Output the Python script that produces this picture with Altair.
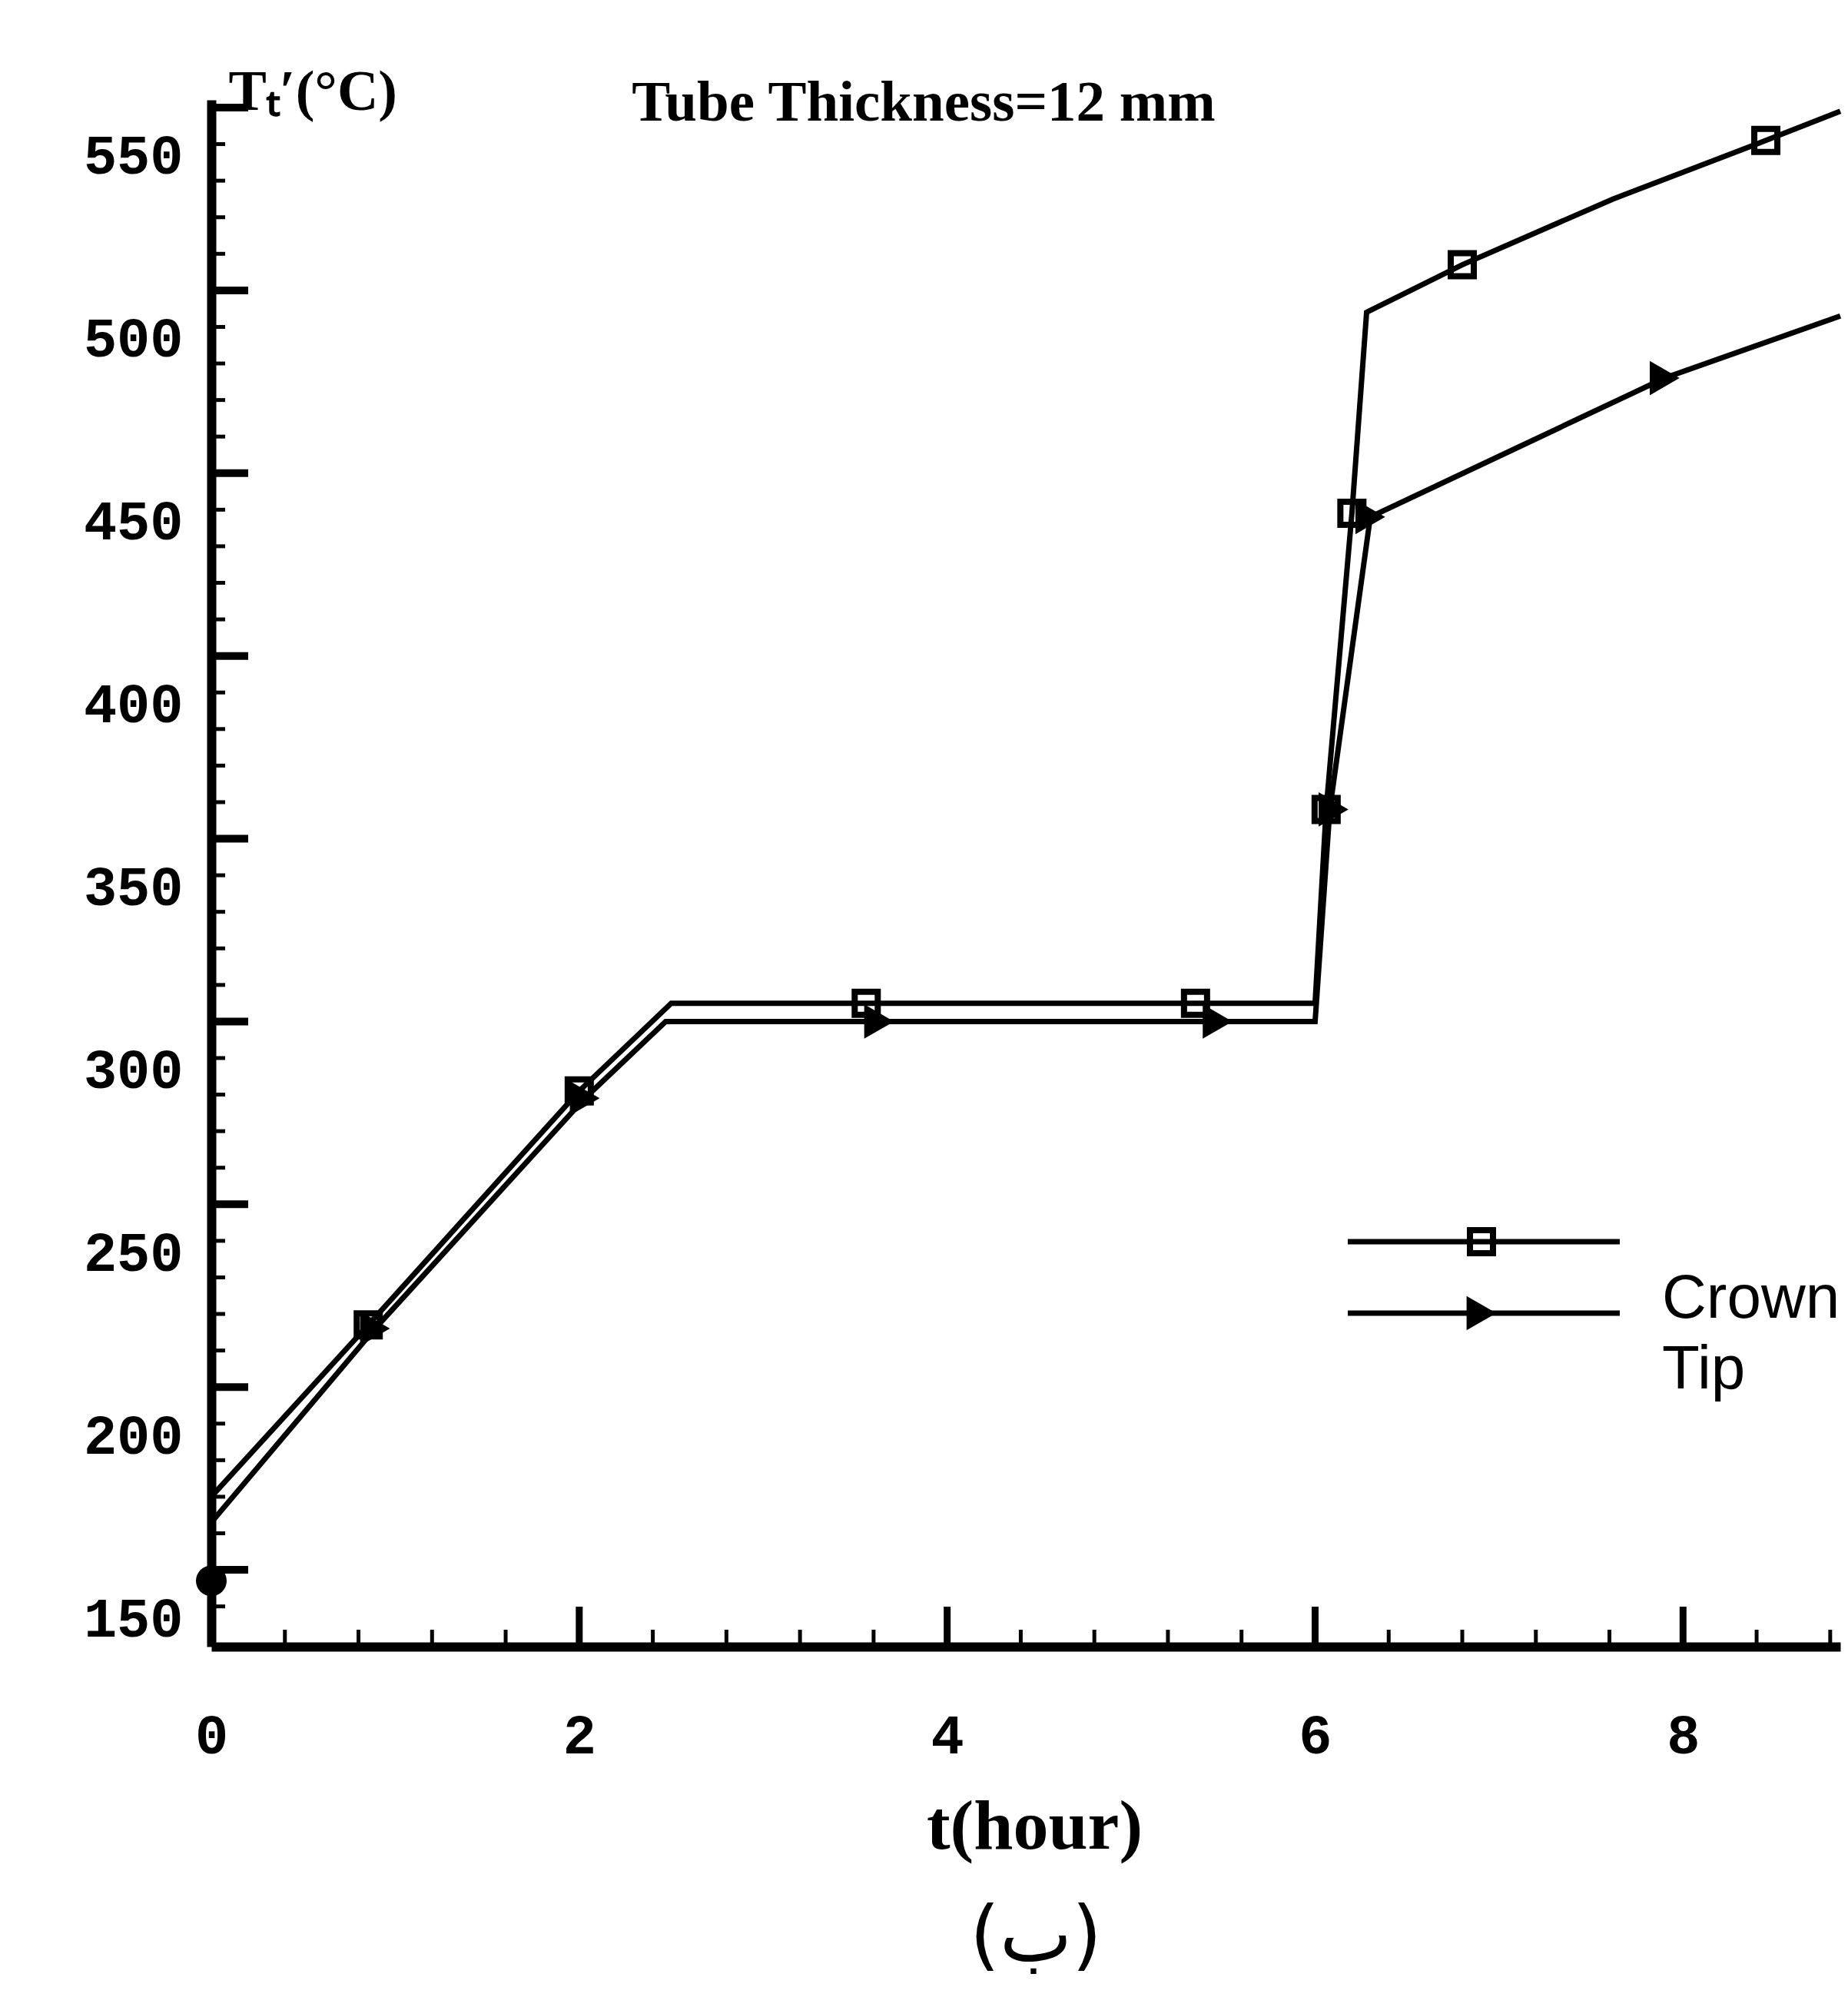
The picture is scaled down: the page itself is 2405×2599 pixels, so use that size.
import altair as alt
import pandas as pd

# ---- data ----
series = ["Crown", "Tip"]
crown_t = [0.0, 0.853, 2.0, 2.5, 3.56, 5.35, 6.0, 6.06, 6.2, 6.28, 6.8, 7.62, 8.45, 8.855]
crown_T = [170, 217, 281, 305, 305, 305, 305, 358, 439, 494, 507, 525, 541, 549]
tip_t = [0.0, 0.89, 2.03, 2.47, 3.63, 5.47, 6.0, 6.08, 6.3, 7.1, 7.9, 8.855]
tip_T = [163, 216, 279, 300, 300, 300, 300, 358, 438, 457, 476, 493]
crown_mark_t = [0.853, 2.0, 3.56, 5.35, 6.06, 6.2, 6.8, 8.45]
crown_mark_T = [217, 281, 305, 305, 358, 439, 507, 541]
tip_mark_t = [0.89, 2.03, 3.63, 5.47, 6.1, 6.3, 7.9]
tip_mark_T = [216, 279, 300, 300, 358, 438, 476]
init_t = [0.0]
init_T = [147]

x_major = [0, 2, 4, 6, 8]
x_minor = [0.4, 0.8, 1.2, 1.6, 2.4, 2.8, 3.2, 3.6, 4.4, 4.8, 5.2, 5.6,
           6.4, 6.8, 7.2, 7.6, 8.4, 8.8]
y_major = [150, 200, 250, 300, 350, 400, 450, 500, 550]
y_minor = [v for v in range(140, 551, 10) if v % 50 != 0]

chart_title = "Tube Thickness=12 mm"
x_title = "t(hour)"
y_title = "Tₜ′(°C)"
sub_label = "(ب)"

W, H = 2120, 2013
xs = alt.Scale(domain=[0, 8.855], nice=False, zero=False)
ys = alt.Scale(domain=[129, 552.1], nice=False, zero=False)

x_axis = alt.Axis(values=x_major, format="d", tickSize=0, ticks=False, grid=False,
                  domain=True, domainWidth=12, domainColor="black",
                  labelFont="Liberation Mono", labelFontWeight="bold",
                  labelFontSize=72, labelColor="black", labelFlush=False,
                  labelBaseline="middle", labelPadding=116,
                  title=x_title, titleFont="Liberation Serif",
                  titleFontWeight="bold", titleFontSize=92, titleColor="black",
                  titleX=1071, titleY=262, titleBaseline="alphabetic",
                  titleAlign="center")
y_axis = alt.Axis(values=y_major, format="d", tickSize=0, ticks=False, grid=False,
                  domain=True, domainWidth=12, domainColor="black",
                  labelFont="Liberation Mono", labelFontWeight="bold",
                  labelFontSize=72, labelColor="black", labelOffset=64,
                  labelPadding=37, labelFlush=False,
                  title=y_title, titleFont="Liberation Serif",
                  titleFontWeight="bold", titleFontSize=74, titleColor="black",
                  titleAngle=0, titleX=22, titleY=12, titleAlign="left",
                  titleBaseline="alphabetic")

X = lambda f: alt.X(f, scale=xs, axis=x_axis)
Y = lambda f: alt.Y(f, scale=ys, axis=y_axis)

lines_df = pd.concat([
    pd.DataFrame({"t": crown_t, "T": crown_T, "s": series[0]}),
    pd.DataFrame({"t": tip_t, "T": tip_T, "s": series[1]}),
])

lines = alt.Chart(lines_df).mark_line(color="black", strokeWidth=7).encode(
    x=X("t:Q"), y=Y("T:Q"), detail="s:N")

sq = alt.Chart(pd.DataFrame({"t": crown_mark_t, "T": crown_mark_T})).mark_point(
    shape="square", filled=False, size=900, strokeWidth=8, color="black", opacity=1
).encode(x=X("t:Q"), y=Y("T:Q"))

tri = alt.Chart(pd.DataFrame({"t": tip_mark_t, "T": tip_mark_T})).mark_point(
    shape="triangle-right", filled=True, size=2000, color="black", opacity=1
).encode(x=X("t:Q"), y=Y("T:Q"))

init = alt.Chart(pd.DataFrame({"t": init_t, "T": init_T})).mark_point(
    shape="circle", filled=True, size=1600, color="black", opacity=1
).encode(x=X("t:Q"), y=Y("T:Q"))

# inward ticks
yt_major = alt.Chart(pd.DataFrame({"T": y_major})).mark_rule(color="black", strokeWidth=10).encode(
    y=Y("T:Q"), x=alt.value(0), x2=alt.value(48))
yt_minor = alt.Chart(pd.DataFrame({"T": y_minor})).mark_rule(color="black", strokeWidth=5).encode(
    y=Y("T:Q"), x=alt.value(0), x2=alt.value(18))
xt_major = alt.Chart(pd.DataFrame({"t": x_major})).mark_rule(color="black", strokeWidth=9).encode(
    x=X("t:Q"), y=alt.value(H), y2=alt.value(H - 52))
xt_minor = alt.Chart(pd.DataFrame({"t": x_minor})).mark_rule(color="black", strokeWidth=5).encode(
    x=X("t:Q"), y=alt.value(H), y2=alt.value(H - 22))

# title inside plot
title_txt = alt.Chart(pd.DataFrame({"s": [chart_title]})).mark_text(
    font="Liberation Serif", fontWeight="bold", fontSize=75, color="black",
    align="center", baseline="alphabetic"
).encode(x=alt.value(927), y=alt.value(27), text="s:N")

sub_txt = alt.Chart(pd.DataFrame({"s": [sub_label]})).mark_text(
    font="DejaVu Sans", fontSize=100, color="black",
    align="center", baseline="middle"
).encode(x=alt.value(1073), y=alt.value(2392), text="s:N")

# manual legend
def legend_entry(name, ly, ty, shape, filled, size, sw):
    d = pd.DataFrame({"s": [name]})
    base = alt.Chart(d)
    ln = base.mark_rule(color="black", strokeWidth=7).encode(
        x=alt.value(1479), x2=alt.value(1833), y=alt.value(ly))
    mk = base.mark_point(shape=shape, filled=filled, size=size, strokeWidth=sw,
                         color="black", opacity=1).encode(
        x=alt.value(1653), y=alt.value(ly))
    tx = base.mark_text(font="Liberation Sans", fontSize=80, color="black",
                        align="left", baseline="alphabetic").encode(
        x=alt.value(1888), y=alt.value(ty), text="s:N")
    return [ln, mk, tx]

leg = legend_entry(series[0], 1486, 1585, "square", False, 900, 8) + \
      legend_entry(series[1], 1579, 1677, "triangle-right", True, 2000, 1)

chart = alt.layer(
    lines, yt_major, yt_minor, xt_major, xt_minor, sq, tri, init,
    title_txt, sub_txt, *leg
).properties(
    width=W, height=H,
    autosize=alt.AutoSizeParams(type="none"),
    padding={"left": 267, "top": 122, "right": 2, "bottom": 440},
    background="white",
).configure_view(strokeWidth=0)

chart.save("out.html", embed_options={"renderer": "svg", "actions": False})
